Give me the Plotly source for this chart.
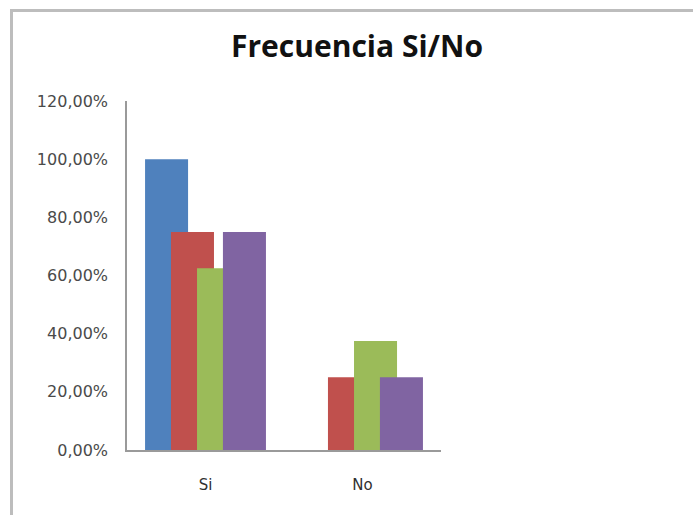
import plotly.graph_objects as go

categories = ["Si", "No"]
series_names = ["Serie 1", "Serie 2", "Serie 3", "Serie 4"]
series_values = [
    [1.00, 0.00],
    [0.75, 0.25],
    [0.625, 0.375],
    [0.75, 0.25],
]
colors = ["#4F81BD", "#C0504D", "#9BBB59", "#8064A2"]
y_ticks = [0, 0.2, 0.4, 0.6, 0.8, 1.0, 1.2]

bar_width = 0.274
offsets = [-0.385, -0.22, -0.054, 0.111]

fig = go.Figure()
for name, vals, col, off in zip(series_names, series_values, colors, offsets):
    fig.add_trace(go.Bar(
        x=categories, y=vals, name=name,
        marker=dict(color=col, line=dict(width=0)),
        width=bar_width, offset=off,
    ))

L, R, T, B = 127, 441, 101, 450
W, H = 693, 515
pw, ph = R - L, B - T

def px_x(p):
    return (p - L) / pw

def px_y(p):
    return (B - p) / ph

fig.update_layout(
    width=W, height=H,
    margin=dict(l=L, r=W - R, t=T, b=H - B, autoexpand=False),
    barmode="overlay",
    showlegend=False,
    separators=",.",
    paper_bgcolor="white",
    plot_bgcolor="white",
    font=dict(family="DejaVu Sans, sans-serif", color="#404040"),
    title=dict(
        text="<b>Frecuencia Si/No</b>",
        x=357 / W, xanchor="center",
        y=1 - 46 / H, yanchor="middle",
        font=dict(size=30, color="#111111", family="Open Sans, sans-serif"),
    ),
    xaxis=dict(
        type="category",
        range=[-0.5, 1.5],
        showgrid=False,
        showline=True, linecolor="#9A9A9A", linewidth=1.5,
        ticks="outside", ticklen=20, tickcolor="rgba(0,0,0,0)",
        tickfont=dict(size=15, color="#303030", family="DejaVu Sans, sans-serif"),
        fixedrange=True,
    ),
    yaxis=dict(
        range=[0, 1.2],
        tickvals=y_ticks,
        tickformat=".2%",
        showgrid=False,
        zeroline=False,
        showline=True, linecolor="#9A9A9A", linewidth=1.5,
        ticks="outside", ticklen=14, tickcolor="rgba(0,0,0,0)",
        tickfont=dict(size=16, color="#4A4A4A", family="DejaVu Sans, sans-serif"),
        fixedrange=True,
    ),
    shapes=[
        dict(type="line", xref="paper", yref="paper",
             x0=px_x(11.5), x1=px_x(11.5), y0=px_y(10), y1=px_y(530),
             line=dict(color="#BDBDBD", width=3)),
        dict(type="line", xref="paper", yref="paper",
             x0=px_x(10), x1=px_x(710), y0=px_y(10.5), y1=px_y(10.5),
             line=dict(color="#BDBDBD", width=3)),
    ],
)

fig.write_html(
    "out.html",
    config={"displayModeBar": False},
    post_script="document.body.style.margin='0';document.body.style.overflow='hidden';",
)
